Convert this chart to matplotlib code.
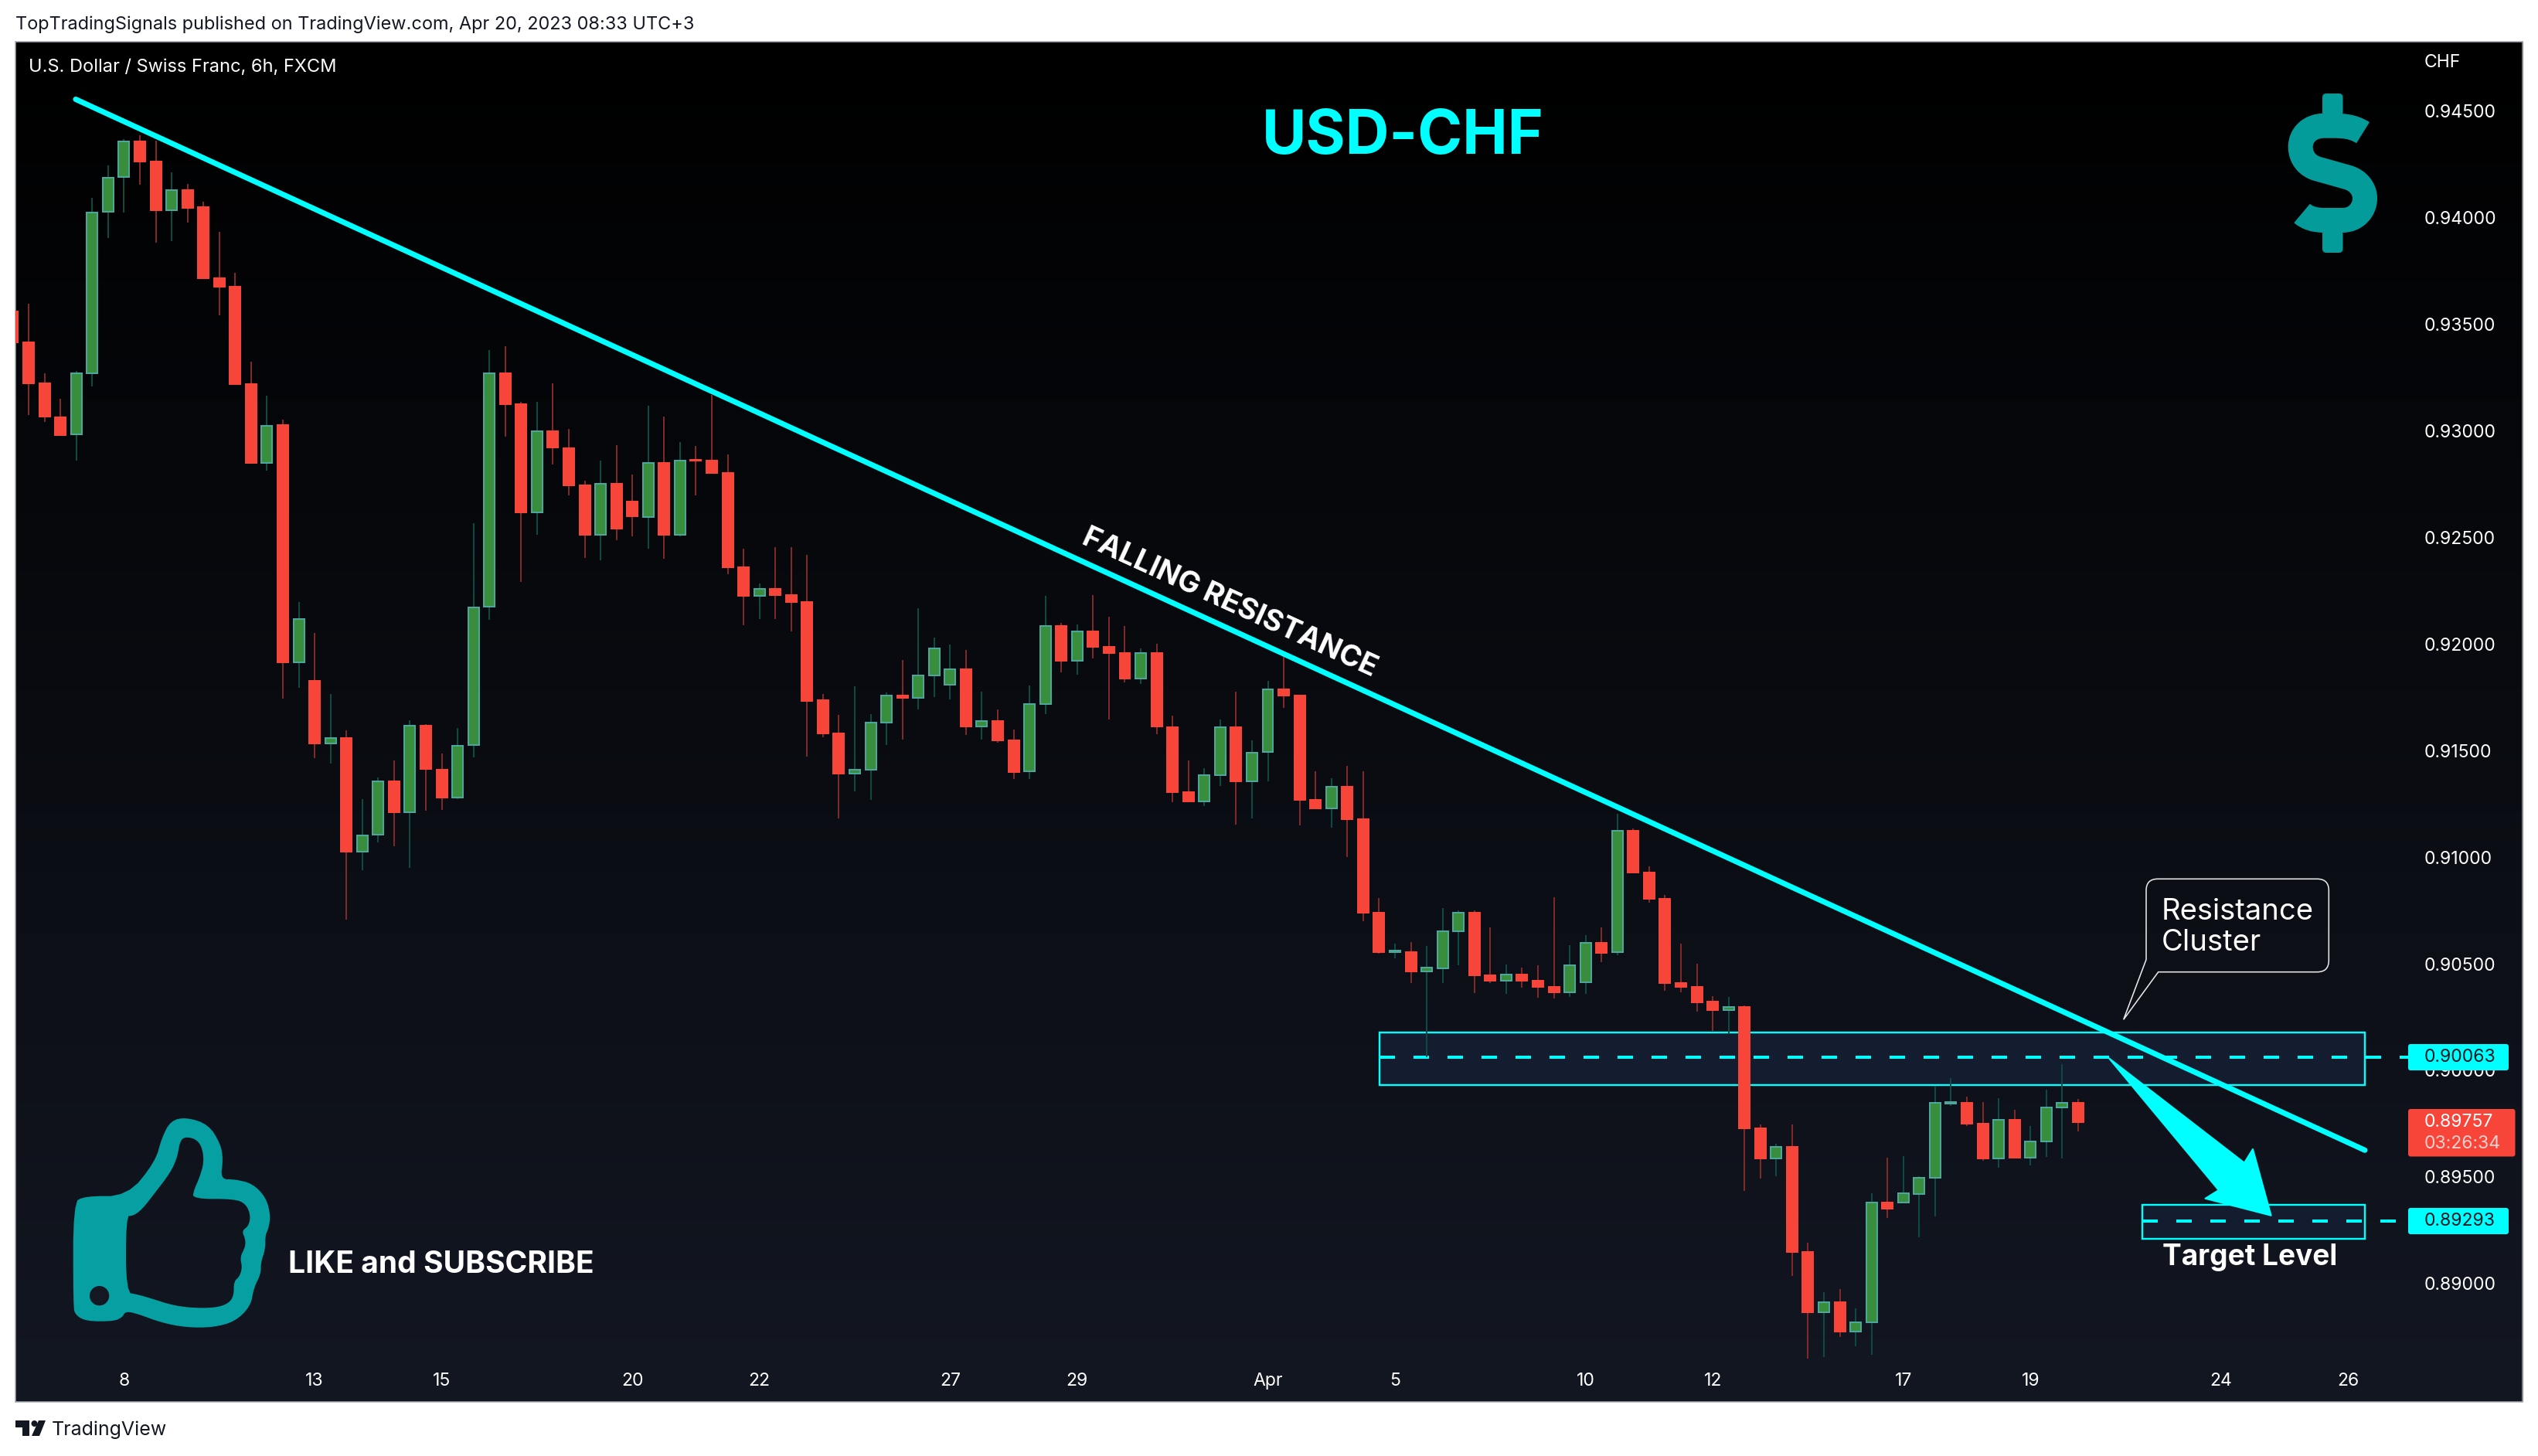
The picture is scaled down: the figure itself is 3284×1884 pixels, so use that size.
#!/usr/bin/env python3
# USD/CHF 6h candles with trendline and levels, TradingView look
import numpy as np
import matplotlib
matplotlib.use("Agg")
import matplotlib.pyplot as plt
from matplotlib.patches import FancyBboxPatch, PathPatch, Polygon, Rectangle, Ellipse
from matplotlib.path import Path

plt.rcParams['font.family'] = ['Inter', 'DejaVu Sans']

opens = [
    .93561, .93416, .93222, .93064, .92984, .93269, .94028, .94191, .94359, .94264,
    .94036, .94131, .94049, .93717, .93678, .93219, .92849, .93028, .91916, .91828,
    .91535, .91559, .91025, .91105, .91354, .91209, .91618, .91411, .91279, .91525,
    .92175, .93269, .93124, .92616, .92999, .92919, .92743, .92512, .92753, .92670,
    .92597, .92851, .92514, .92866, .92862, .92801, .92362, .92225, .92257, .92231,
    .92196, .91736, .91579, .91391, .91409, .91630, .91760, .91746, .91851, .91810,
    .91880, .91614, .91637, .91549, .91402, .91720, .92084, .91920, .92058, .91988,
    .91959, .91839, .91959, .91611, .91306, .91260, .91386, .91611, .91354, .91492,
    .91786, .91760, .91267, .91230, .91329, .91177, .90741, .90553, .90556, .90464,
    .90479, .90654, .90741, .90444, .90421, .90451, .90421, .90393, .90367, .90414,
    .90599, .90553, .91122, .90929, .90806, .90411, .90393, .90321, .90284, .90296,
    .89729, .89586, .89642, .89149, .88866, .88910, .88775, .88818, .89381, .89380,
    .89420, .89494, .89845, .89849, .89751, .89586, .89769, .89591, .89667, .89827,
    .89849,
]
highs = [
    .93640, .93598, .93269, .93149, .93282, .94095, .94245, .94370, .94388, .94362,
    .94214, .94160, .94077, .93935, .93743, .93326, .93165, .93054, .92196, .92051,
    .91766, .91595, .91271, .91375, .91452, .91642, .91623, .91486, .91605, .92566,
    .93380, .93398, .93136, .93136, .93225, .93010, .92766, .92862, .92934, .92794,
    .93118, .93068, .92948, .92931, .93170, .92890, .92448, .92285, .92455, .92455,
    .92419, .91765, .91668, .91802, .91670, .91773, .91925, .92168, .92030, .91998,
    .91972, .91776, .91694, .91598, .91805, .92226, .92100, .92092, .92229, .92127,
    .92085, .91980, .92001, .91664, .91454, .91417, .91647, .91776, .91548, .91828,
    .91961, .91760, .91402, .91369, .91428, .91404, .90808, .90596, .90601, .90583,
    .90761, .90749, .90749, .90670, .90496, .90482, .90493, .90812, .90587, .90633,
    .90670, .91203, .91134, .90956, .90824, .90595, .90500, .90347, .90345, .90306,
    .89744, .89655, .89744, .89191, .88958, .88973, .88882, .89422, .89589, .89596,
    .89503, .89926, .89962, .89876, .89851, .89869, .89814, .89740, .89909, .90028,
    .89864,
]
lows = [
    .93320, .93074, .93041, .92981, .92859, .93209, .93906, .94025, .94155, .93883,
    .93890, .93979, .93717, .93543, .93219, .92849, .92813, .91743, .91794, .91465,
    .91439, .90706, .90939, .91069, .91051, .90950, .91217, .91222, .91271, .91468,
    .92113, .92973, .92292, .92512, .92844, .92699, .92403, .92393, .92486, .92504,
    .92448, .92399, .92505, .92697, .92801, .92328, .92089, .92118, .92118, .92060,
    .91472, .91563, .91182, .91309, .91270, .91527, .91552, .91694, .91752, .91741,
    .91574, .91552, .91538, .91366, .91366, .91671, .91867, .91855, .91933, .91647,
    .91820, .91813, .91577, .91258, .91258, .91240, .91334, .91153, .91182, .91357,
    .91701, .91148, .91227, .91139, .91000, .90700, .90547, .90525, .90410, .90063,
    .90410, .90493, .90362, .90410, .90358, .90387, .90340, .90337, .90345, .90358,
    .90507, .90540, .90925, .90786, .90373, .90365, .90275, .90185, .90171, .89433,
    .89491, .89503, .89035, .88646, .88653, .88748, .88705, .88664, .89307, .89380,
    .89216, .89314, .89834, .89737, .89575, .89542, .89591, .89553, .89593, .89585,
    .89712,
]
closes = [
    .93416, .93222, .93067, .92981, .93269, .94025, .94188, .94359, .94264, .94036,
    .94131, .94046, .93717, .93678, .93219, .92849, .93025, .91916, .92116, .91535,
    .91559, .91025, .91103, .91354, .91209, .91618, .91413, .91279, .91522, .92173,
    .93269, .93124, .92616, .92999, .92921, .92743, .92512, .92753, .92543, .92598,
    .92851, .92514, .92862, .92861, .92801, .92362, .92225, .92257, .92231, .92196,
    .91734, .91579, .91391, .91409, .91630, .91760, .91746, .91851, .91979, .91880,
    .91614, .91637, .91549, .91400, .91720, .92084, .91920, .92058, .91988, .91959,
    .91839, .91959, .91612, .91306, .91260, .91386, .91611, .91354, .91490, .91786,
    .91760, .91267, .91230, .91329, .91177, .90741, .90556, .90561, .90464, .90481,
    .90654, .90741, .90444, .90421, .90451, .90421, .90392, .90367, .90491, .90599,
    .90552, .91122, .90929, .90806, .90411, .90392, .90319, .90284, .90296, .89729,
    .89586, .89642, .89148, .88866, .88910, .88775, .88818, .89381, .89350, .89422,
    .89494, .89849, .89852, .89750, .89586, .89769, .89591, .89667, .89827, .89849,
    .89757,
]

price_ticks = [0.945, 0.94, 0.935, 0.93, 0.925, 0.92, 0.915, 0.91, 0.905, 0.9, 0.895, 0.89]
date_ticks = [7, 19, 27, 39, 47, 59, 67, 79, 87, 99, 107, 119, 127, 139, 147]
date_labels = ['8', '13', '15', '20', '22', '27', '29', 'Apr', '5', '10', '12', '17', '19', '24', '26']

trend_x = [3.96, 148.05]
trend_y = [0.94556, 0.89625]
resistance_zone = [86.02, 148.03, 0.89931, 0.90178]
target_zone = [134.04, 148.03, 0.89209, 0.89370]
resistance_level = 0.90063
target_level = 0.89293
last_price = 0.89757

W, H = 3284, 1884
PANEL = (20, 3264, 54, 1814)
CYAN = '#00FFFF'
RED = '#F7453A'
GREEN = '#388E3C'
GREEN_EDGE = '#4DA69B'
RED_WICK = '#7F2A28'
GREEN_WICK = '#0E4A44'
ZONE = '#141D30'
INK = '#131722'
TEAL = '#06A0A3'


def pt(px):
    return px * 0.72


def chaikin(points, n=2):
    # round off the polygon corners a bit
    pts = np.array(points, dtype=float)
    for _ in range(n):
        nxt = np.roll(pts, -1, axis=0)
        pts = np.column_stack([0.75 * pts + 0.25 * nxt, 0.25 * pts + 0.75 * nxt]).reshape(-1, 2)
    return pts


def draw_candles(ax):
    x = np.arange(len(opens))
    o, h, l, c = map(np.array, (opens, highs, lows, closes))
    up = c >= o
    ax.vlines(x[up], l[up], h[up], color=GREEN_WICK, lw=pt(2), zorder=3)
    ax.vlines(x[~up], l[~up], h[~up], color=RED_WICK, lw=pt(2), zorder=3)
    ax.bar(x[up], (c - o)[up], bottom=o[up], width=0.68, color=GREEN,
           edgecolor=GREEN_EDGE, linewidth=pt(2), zorder=4)
    ax.bar(x[~up], (c - o)[~up], bottom=o[~up], width=0.68, color=RED,
           edgecolor=RED, linewidth=pt(2), zorder=4)


def draw_levels(ax):
    for x0, x1, y0, y1 in (resistance_zone, target_zone):
        ax.add_patch(Rectangle((x0, y0), x1 - x0, y1 - y0, facecolor=ZONE,
                               edgecolor=CYAN, lw=pt(2.4), zorder=2))
    dash = (20 / 4, 24 / 4)
    ax.plot([resistance_zone[0], 150.8], [resistance_level] * 2, color=CYAN,
            lw=pt(4), dashes=dash, zorder=2.5)
    ax.plot([target_zone[0], 150.8], [target_level] * 2, color=CYAN,
            lw=pt(4), dashes=dash, zorder=2.5)
    ax.plot(trend_x, trend_y, color=CYAN, lw=pt(7), solid_capstyle='round', zorder=5)


def draw_dollar(pix):
    verts = [
        (3057.5, 171.7), (3044.5, 163.3), (3031.4, 162.7), (3018.4, 162.7),
        (3007.2, 162.7), (2988.6, 162.7), (2976.7, 175), (2976.7, 190),
        (2976.7, 205), (2986.7, 215), (2998, 218.3), (3037, 229.3),
        (3051.9, 233.3), (3060, 245), (3060, 256.7), (3060, 271.7),
        (3048.2, 285), (3031.4, 285), (3007.2, 285), (2994.2, 285),
        (2984.9, 281.7), (2978.6, 276),
    ]
    codes = [Path.MOVETO, Path.CURVE4, Path.CURVE4, Path.CURVE4, Path.LINETO,
             Path.CURVE4, Path.CURVE4, Path.CURVE4, Path.CURVE4, Path.CURVE4, Path.CURVE4,
             Path.LINETO, Path.CURVE4, Path.CURVE4, Path.CURVE4, Path.CURVE4, Path.CURVE4,
             Path.CURVE4, Path.LINETO, Path.CURVE4, Path.CURVE4, Path.CURVE4]
    pix.add_patch(PathPatch(Path(verts, codes), facecolor='none', edgecolor='#049B9B',
                            lw=pt(32), capstyle='butt', joinstyle='round'))
    for y0, y1 in ((121, 150), (298, 327)):
        pix.add_patch(FancyBboxPatch((3005, y0), 26.5, y1 - y0,
                                     boxstyle="round,pad=0,rounding_size=5",
                                     facecolor='#049B9B', edgecolor='none'))


def draw_thumb(pix):
    outer = [(165, 470), (190, 443), (287, 443), (350, 310), (365, 215), (385, 150),
             (420, 137), (470, 165), (497, 240), (503, 300), (497, 378), (530, 378),
             (570, 395), (600, 450), (610, 520), (605, 570), (598, 595), (598, 650),
             (588, 700), (588, 745), (572, 800), (565, 870), (530, 930), (480, 953),
             (420, 953), (365, 935), (310, 900), (283, 890), (275, 915), (255, 929),
             (195, 929), (170, 905), (165, 870)]
    inner = [(284, 520), (300, 520), (320, 495), (345, 440), (385, 350), (400, 290),
             (405, 235), (415, 213), (440, 220), (455, 250), (460, 310), (450, 370),
             (437, 420), (434, 454), (530, 454), (555, 475), (565, 520), (560, 560),
             (545, 578), (553, 610), (553, 640), (541, 680), (546, 720), (540, 755),
             (527, 775), (527, 830), (515, 860), (485, 877), (430, 877), (385, 865),
             (340, 840), (310, 825), (284, 817)]
    verts, codes = [], []
    # the hole has to run the other way round or agg fills it
    for ring in (outer, inner[::-1]):
        pts = chaikin(ring, 2)
        pts = np.column_stack([pts[:, 0] / 1.742, 1400 + pts[:, 1] / 3])
        verts.extend(pts.tolist())
        verts.append(pts[0].tolist())
        codes.extend([Path.MOVETO] + [Path.LINETO] * (len(pts) - 1) + [Path.CLOSEPOLY])
    pix.add_patch(PathPatch(Path(verts, codes), facecolor=TEAL, edgecolor='none'))
    pix.add_patch(Ellipse((224 / 1.742, 1400 + 830 / 3), 44 / 1.742, 76 / 3,
                          facecolor='#141823', edgecolor='none'))


def draw_overlay(pix):
    # big arrow into the target box
    pix.add_patch(Polygon([(2729, 1369.4), (2904, 1504.6), (2915, 1486.9), (2938.6, 1572.8),
                           (2853.5, 1550.8), (2870.8, 1540)], closed=True,
                          facecolor=CYAN, edgecolor=CYAN, lw=pt(2), joinstyle='round'))

    # price tags
    for y0, txt in ((1351, '0.90063'), (1563, '0.89293')):
        pix.add_patch(FancyBboxPatch((3116, y0), 130, 34,
                                     boxstyle="round,pad=0,rounding_size=3",
                                     facecolor=CYAN, edgecolor='none', zorder=6))
        pix.text(3137, y0 + 17.5, txt, fontsize=pt(23), color=INK, va='center', zorder=7)
    pix.add_patch(FancyBboxPatch((3116, 1435), 138.5, 61.5,
                                 boxstyle="round,pad=0,rounding_size=3",
                                 facecolor=RED, edgecolor='none', zorder=6))
    pix.text(3137, 1451.5, '%.5f' % last_price, fontsize=pt(23), color='white', va='center', zorder=7)
    pix.text(3137, 1479.5, '03:26:34', fontsize=pt(23), color='#FBD0CC', va='center', zorder=7)

    # callout
    r = 15
    l, t, rt, b = 2777, 1137.3, 3013.3, 1257.7
    verts = [(l, 1241.7), (l, t + r), (l, t), (l + r, t), (rt - r, t), (rt, t), (rt, t + r),
             (rt, b - r), (rt, b), (rt - r, b), (2792.7, b), (2747.7, 1319.3), (l, 1241.7)]
    codes = [Path.MOVETO, Path.LINETO, Path.CURVE3, Path.CURVE3, Path.LINETO, Path.CURVE3, Path.CURVE3,
             Path.LINETO, Path.CURVE3, Path.CURVE3, Path.LINETO, Path.LINETO, Path.CLOSEPOLY]
    pix.add_patch(PathPatch(Path(verts, codes), facecolor='none', edgecolor='#E6E6E6', lw=pt(1.6)))
    pix.text(2797, 1190, 'Resistance', fontsize=pt(38.2), color='white', va='baseline')
    pix.text(2797, 1230, 'Cluster', fontsize=pt(38.2), color='white', va='baseline')

    # labels
    pix.text(1633, 199, 'USD-CHF', fontsize=pt(78.5), color=CYAN, fontweight='bold', va='baseline')
    pix.text(1591, 780, 'FALLING RESISTANCE', fontsize=pt(38.2), color='white', fontweight='bold',
             rotation=-24.6, rotation_mode='anchor', ha='center', va='center')
    pix.text(373, 1647, 'LIKE and SUBSCRIBE', fontsize=pt(39), color='white', fontweight='bold',
             va='baseline')
    pix.text(2798, 1637, 'Target Level', fontsize=pt(37), color='white', fontweight='bold',
             va='baseline')
    pix.text(37, 87, 'U.S. Dollar / Swiss Franc, 6h, FXCM', fontsize=pt(23.6), color='white', va='center')
    pix.text(3136.5, 81, 'CHF', fontsize=pt(23), color='white', va='center')
    pix.text(20, 32, 'TopTradingSignals published on TradingView.com, Apr 20, 2023 08:33 UTC+3',
             fontsize=pt(23.5), color=INK, va='center')

    # tradingview logo and name
    pix.add_patch(Polygon([(20, 1838), (38, 1838), (38, 1858), (29, 1858), (29, 1847), (20, 1847)],
                          closed=True, facecolor=INK, edgecolor='none'))
    pix.add_patch(Ellipse((44.5, 1842), 8, 8, facecolor=INK, edgecolor='none'))
    pix.add_patch(Polygon([(50, 1838), (59, 1838), (51, 1858), (41, 1858)],
                          closed=True, facecolor=INK, edgecolor='none'))
    pix.text(67, 1850, 'TradingView', fontsize=pt(25), color=INK, va='center')

    draw_dollar(pix)
    draw_thumb(pix)


def main():
    fig = plt.figure(figsize=(W / 100, H / 100), dpi=100, facecolor='white')
    left, right, top, bottom = PANEL
    ax = fig.add_axes([left / W, 1 - bottom / H, (right - left) / W, (bottom - top) / H])

    grad = np.linspace(0, 1, 256)[:, None, None] * np.array([0x13, 0x17, 0x22]) / 255
    ax.imshow(grad, extent=(0, 1, 0, 1), transform=ax.transAxes, aspect='auto', zorder=0,
              origin='upper')
    ax.set_xlim((left - 16.5) / 20.557, (right - 16.5) / 20.557)
    ax.set_ylim(0.88444, 0.94826)

    draw_levels(ax)
    draw_candles(ax)

    ax.yaxis.tick_right()
    ax.set_yticks(price_ticks)
    ax.set_yticklabels(['%.5f' % p for p in price_ticks])
    ax.tick_params(axis='y', length=0, pad=-pt(127), labelsize=pt(23), labelcolor='white')
    ax.set_xticks(date_ticks)
    ax.set_xticklabels(date_labels)
    ax.tick_params(axis='x', length=0, pad=-pt(38), labelsize=pt(23), labelcolor='white')
    for s in ax.spines.values():
        s.set_color('#A8ABB5')
        s.set_linewidth(pt(1.5))

    pix = fig.add_axes([0, 0, 1, 1], facecolor='none')
    pix.set_xlim(0, W)
    pix.set_ylim(H, 0)
    pix.axis('off')
    draw_overlay(pix)

    fig.savefig('out.png', dpi=100)


if __name__ == "__main__":
    main()
